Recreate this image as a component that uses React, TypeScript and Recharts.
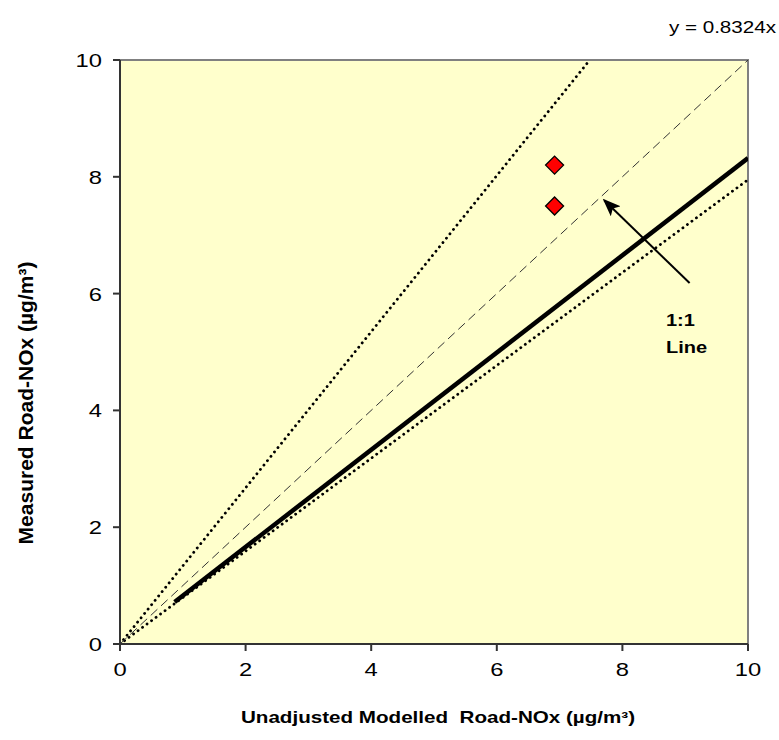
import {
  ComposedChart,
  XAxis,
  YAxis,
  Line,
  Scatter,
  ReferenceArea,
} from "recharts"

// axis ticks
const xTicks = [0, 2, 4, 6, 8, 10]
const yTicks = [0, 2, 4, 6, 8, 10]

// 1:1 line
const oneToOneX = [0, 10]
const oneToOneY = [0, 10]
// upper / lower guide lines (dotted)
const upperX = [0, 7.48]
const upperY = [0, 10]
const lowerX = [0, 10]
const lowerY = [0, 7.95]
// fitted line y = 0.8324x
const fitX = [0.87, 10]
const fitY = [0.72, 8.32]
// monitoring sites
const siteX = [6.92, 6.92]
const siteY = [8.2, 7.5]
// annotation arrow (tail -> head) and its label
const arrowX = [9.07, 7.71]
const arrowY = [6.18, 7.6]
const noteX = [8.9]
const noteY = [5.45]

const toPts = (xs: number[], ys: number[]) => xs.map((x, i) => ({ x, y: ys[i] }))

const FONT = "Liberation Sans, Arial, sans-serif"
const SX = 1.25 // text in the source picture is stretched sideways

const WideText = ({ x, y, anchor = "start", size, bold, children }: any) => (
  <g transform={`translate(${x},${y}) scale(${SX},1)`}>
    <text
      x={0}
      y={0}
      textAnchor={anchor}
      fontFamily={FONT}
      fontSize={size}
      fontWeight={bold ? "bold" : "normal"}
      fill="#000"
    >
      {children}
    </text>
  </g>
)

const XTick = ({ x, y, payload }: any) => (
  <WideText x={x} y={y + 23} anchor="middle" size={19}>
    {payload.value}
  </WideText>
)

const YTick = ({ x, y, payload }: any) => (
  <WideText x={x} y={y + 7} anchor="end" size={19}>
    {payload.value}
  </WideText>
)

const Diamond = ({ cx, cy }: any) => (
  <polygon
    points={`${cx},${cy - 9} ${cx + 9},${cy} ${cx},${cy + 9} ${cx - 9},${cy}`}
    fill="#FF0000"
    stroke="#000"
    strokeWidth={1.3}
  />
)

const NoteText = ({ cx, cy }: any) => (
  <g>
    <WideText x={cx - 13} y={cy} size={16} bold>
      1:1
    </WideText>
    <WideText x={cx - 13} y={cy + 27} size={16} bold>
      Line
    </WideText>
  </g>
)

const App = () => {
  return (
    <div style={{ position: "absolute", left: 0, top: 0 }}>
      <ComposedChart
        width={779}
        height={740}
        margin={{ top: 60, right: 31, bottom: 66, left: 60 }}
        style={{ fontFamily: FONT }}
      >
        <defs>
          <marker
            id="arrowHead"
            markerWidth={18}
            markerHeight={14}
            refX={16}
            refY={7}
            orient="auto"
            markerUnits="userSpaceOnUse"
          >
            <path d="M0,0 L18,7 L0,14 L4,7 z" fill="#000" />
          </marker>
        </defs>
        <ReferenceArea x1={0} x2={10} y1={0} y2={10} fill="#FFFFCC" fillOpacity={1} stroke="#808080" strokeWidth={2} />
        <XAxis
          type="number"
          dataKey="x"
          domain={[0, 10]}
          ticks={xTicks}
          allowDataOverflow
          height={30}
          tickSize={7}
          tickMargin={2}
          stroke="#333"
          strokeWidth={2}
          tick={<XTick />}
        />
        <YAxis
          type="number"
          dataKey="y"
          domain={[0, 10]}
          ticks={yTicks}
          allowDataOverflow
          width={60}
          tickSize={7}
          tickMargin={11}
          stroke="#333"
          strokeWidth={2}
          tick={<YTick />}
        />
        <Line
          data={toPts(upperX, upperY)}
          dataKey="y"
          type="linear"
          stroke="#000"
          strokeWidth={2.8}
          strokeDasharray="0.1 5.5"
          strokeLinecap="round"
          dot={false}
          isAnimationActive={false}
        />
        <Line
          data={toPts(lowerX, lowerY)}
          dataKey="y"
          type="linear"
          stroke="#000"
          strokeWidth={2.8}
          strokeDasharray="0.1 5.5"
          strokeLinecap="round"
          dot={false}
          isAnimationActive={false}
        />
        <Line
          data={toPts(oneToOneX, oneToOneY)}
          dataKey="y"
          type="linear"
          stroke="#333"
          strokeWidth={1}
          strokeDasharray="9 5"
          dot={false}
          isAnimationActive={false}
        />
        <Line
          data={toPts(fitX, fitY)}
          dataKey="y"
          type="linear"
          stroke="#000"
          strokeWidth={4.5}
          dot={false}
          isAnimationActive={false}
        />
        <Line
          data={toPts(arrowX, arrowY)}
          dataKey="y"
          type="linear"
          stroke="#000"
          strokeWidth={2}
          markerEnd="url(#arrowHead)"
          dot={false}
          isAnimationActive={false}
        />
        <Scatter data={toPts(siteX, siteY)} dataKey="y" shape={<Diamond />} isAnimationActive={false} />
        <Scatter data={toPts(noteX, noteY)} dataKey="y" shape={<NoteText />} isAnimationActive={false} />
        <WideText x={776} y={33} anchor="end" size={16.5}>
          y = 0.8324x
        </WideText>
        <WideText x={438} y={723} anchor="middle" size={16.5} bold>
          {"Unadjusted Modelled\u00a0 Road-NOx (µg/m³)"}
        </WideText>
        <text
          transform="translate(33,403) rotate(-90)"
          textAnchor="middle"
          fontFamily={FONT}
          fontSize={21}
          fontWeight="bold"
          fill="#000"
        >
          Measured Road-NOx (µg/m³)
        </text>
      </ComposedChart>
    </div>
  )
}

export default App
